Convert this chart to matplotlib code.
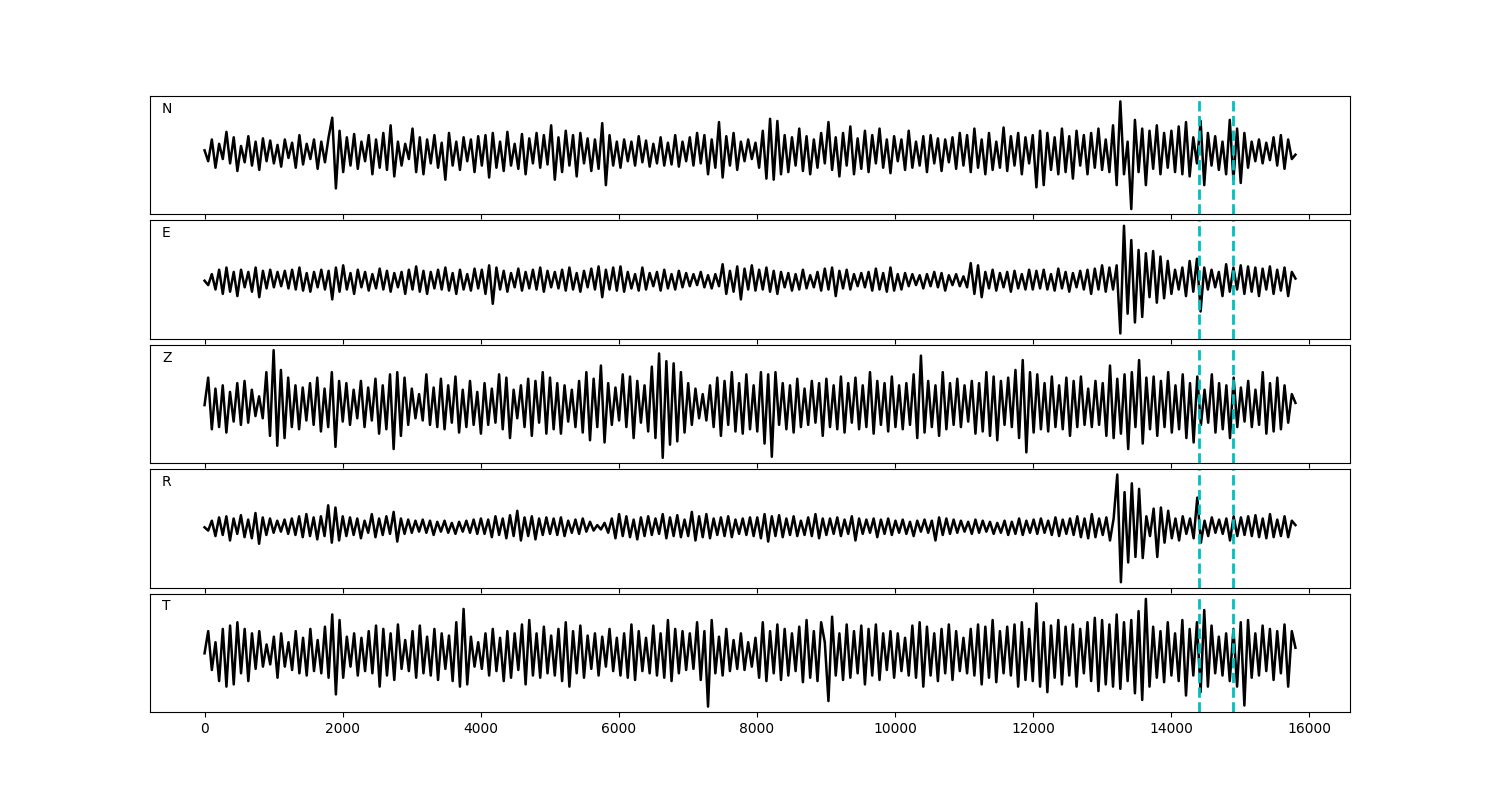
import numpy as np
import matplotlib
matplotlib.use('Agg')
import matplotlib.pyplot as plt

# trace extrema (amplitude, arbitrary units)
n_trace = [2, -8, 12, -14, 8, -6, 19, -10, 14, -17, 6, -9, 15, -12, 10, -16, 13, -8, 11,
           -10, 7, -13, 12, -5, 9, -14, 16, -11, 8, -6, 12, -15, 10, -9, 14, 32, -33, 20,
           -18, 14, -12, 17, -15, 10, -8, 16, -20, 12, -14, 18, -16, 25, -22, 10, -12, 8, -6,
           22, -18, 14, -20, 12, -10, 16, -14, 9, -25, 18, -12, 10, -16, 14, -8, 12, -18, 15,
           -12, 16, -23, 18, -14, 10, -17, 19, -12, 8, -15, 17, -20, 13, -10, 18, -14, 16, -11,
           25, -25, 14, -18, 20, -12, 16, -22, 18, -10, 13, -17, 12, -15, 27, -30, 16, -12, 10,
           -14, 12, -8, 10, -12, 15, -9, 11, -13, 8, -10, 14, -12, 9, -11, 16, -13, 10, -8,
           14, -12, 18, -10, 16, -20, 12, -14, 28, -23, 15, -12, 18, -16, 10, -8, 12, -6, 9,
           -14, 20, -24, 31, -25, 29, -20, 16, -18, 14, -12, 22, -17, 15, -20, 12, -14, 18, -10,
           28, -16, 14, -22, 18, -12, 24, -20, 13, -15, 20, -18, 16, -10, 22, -14, 12, -19, 15,
           -8, 12, -16, 20, -14, 10, -12, 15, -18, 16, -10, 13, -17, 12, -9, 14, -15, 18, -12,
           16, -18, 22, -14, 12, -20, 18, -16, 10, -14, 23, -17, 15, -12, 18, -20, 14, -10, 16,
           -32, 20, -30, 18, -16, 14, -20, 22, -18, 15, -24, 20, -12, 16, -20, 18, -14, 22, -16,
           12, -18, 25, -30, 47, -20, 10, -52, 30, -18, 22, -30, 20, -15, 25, -20, 18, -14, 20,
           -18, 24, -20, 28, -22, 14, -10, 29, -30, 18, -12, 15, -16, 10, -20, 30, -25, 22, -28,
           18, -14, 10, -8, 12, -10, 9, -7, 14, -12, 16, -15, 12, -6, -2]

e_trace = [0, -4, 6, -8, 10, -12, 12, -10, 8, -14, 10, -6, 8, -10, 12, -15, 9, -7, 10,
           -6, 8, -5, 9, -7, 10, -8, 12, -9, 7, -10, 8, -6, 10, -8, 9, -17, 12, -10,
           14, -8, 7, -12, 10, -6, 8, -9, 6, -7, 11, -8, 9, -10, 7, -6, 8, -12, 10,
           -8, 13, -10, 9, -12, 8, -7, 10, -8, 12, -9, 7, -12, 10, -8, 6, -9, 11, -7,
           10, -12, 14, -21, 12, -8, 9, -10, 7, -6, 11, -9, 8, -7, 10, -8, 12, -10, 9,
           -6, 8, -7, 10, -9, 12, -8, 7, -10, 9, -6, 11, -8, 13, -15, 10, -8, 12, -9,
           13, -10, 8, -7, 6, -9, 12, -8, 7, -5, 8, -9, 10, -7, 6, -8, 9, -6, 7,
           -5, 6, -4, 8, -6, 5, -7, 6, -5, 15, -12, 9, -10, 13, -17, 11, -8, 14, -9,
           10, -8, 12, -10, 9, -12, 8, -6, 7, -9, 6, -8, 10, -7, 5, -6, 8, -9, 11,
           -8, 12, -14, 9, -7, 10, -8, 6, -5, 7, -6, 8, -9, 11, -8, 7, -10, 12, -9,
           6, -8, 7, -5, 6, -4, 5, -7, 6, -5, 8, -6, 7, -9, 5, -4, 6, -5, 4,
           -6, 16, -12, 14, -15, 8, -7, 10, -9, 7, -6, 8, -10, 9, -7, 6, -8, 10, -8,
           9, -7, 10, -8, 6, -9, 11, -7, 8, -10, 7, -6, 9, -8, 10, -12, 11, -8, 14,
           -10, 12, -8, 14, -48, 50, -30, 37, -38, 28, -33, 25, -15, 27, -20, 22, -16, 18, -12,
           10, -8, 12, -14, 18, -10, 20, -28, 12, -8, 10, -6, 8, -14, 15, -10, 12, -8, 14,
           -12, 13, -10, 12, -14, 11, -8, 13, -12, 10, -9, 12, -14, 8, 2]

z_trace = [0, 25, -22, 15, -20, 18, -25, 12, -15, 20, -18, 22, -16, 14, -10, 8, -12, 30, -28,
           50, -37, 32, -30, 25, -20, 18, -22, 16, -14, 20, -18, 25, -24, 15, -20, 30, -38, 22,
           -15, 20, -18, 14, -12, 22, -20, 16, -14, 24, -26, 18, -22, 28, -40, 30, -28, 25, -18,
           15, -12, 10, -14, 28, -18, 16, -20, 24, -22, 18, -16, 26, -25, 14, -20, 22, -18, 12,
           -26, 20, -18, 15, -16, 28, -22, 25, -30, 14, -12, 18, -20, 24, -28, 22, -16, 30, -26,
           25, -22, 20, -26, 18, -15, 14, -20, 22, -25, 30, -32, 24, -20, 36, -34, 20, -18, 16,
           -14, 28, -20, 26, -30, 22, -16, 18, -24, 35, -30, 47, -48, 40, -36, 38, -33, 30, -25,
           20, -18, 15, -12, 10, -14, 18, -20, 25, -28, 22, -18, 30, -24, 20, -26, 28, -22, 18,
           -24, 30, -35, 28, -47, 30, -18, 20, -22, 18, -25, 24, -20, 15, -18, 22, -16, 20, -28,
           24, -20, 18, -22, 26, -25, 20, -16, 25, -22, 18, -20, 30, -26, 22, -18, 20, -24, 26,
           -20, 18, -22, 20, -18, 28, -30, 45, -25, 22, -20, 18, -28, 30, -22, 20, -18, 24, -20,
           18, -15, 22, -26, 20, -24, 30, -28, 26, -32, 22, -18, 25, -20, 32, -30, 41, -43, 30,
           -25, 28, -22, 20, -24, 26, -20, 18, -22, 25, -28, 22, -20, 26, -18, 15, -20, 22, -18,
           20, -28, 36, -30, 24, -26, 28, -40, 30, -20, 41, -35, 25, -22, 26, -28, 22, -20, 30, -25,
           18, -22, 28, -30, 20, -34, 26, -18, 14, -16, 28, -25, 20, -22, 18, -30, 25, -20, 16,
           -15, 22, -20, 14, -18, 30, -26, 20, -24, 25, -22, 18, -16, 10, 2]

r_trace = [0, -3, 6, -8, 9, -7, 10, -12, 8, -6, 11, -9, 7, -10, 13, -15, 9, -7, 8,
           -5, 6, -4, 7, -6, 8, -7, 10, -9, 12, -8, 9, -11, 10, -8, 20, -14, 18, -12,
           10, -8, 9, -7, 8, -10, 6, -5, 12, -9, 8, -7, 10, -6, 14, -13, 8, -6, 7,
           -5, 6, -4, 7, -5, 6, -7, 5, -4, 6, -5, 4, -6, 5, -4, 6, -5, 7, -6,
           8, -6, 7, -9, 10, -7, 8, -10, 11, -8, 15, -12, 9, -8, 10, -11, 8, -7, 9,
           -6, 8, -7, 9, -8, 6, -5, 7, -6, 8, -4, 5, -3, 2, -2, 4, -5, 8, -10,
           12, -8, 10, -9, 7, -11, 9, -8, 10, -7, 8, -6, 12, -10, 9, -8, 11, -9, 7,
           -8, 14, -12, 10, -9, 12, -10, 8, -7, 9, -8, 10, -9, 7, -6, 8, -7, 9, -8,
           9, -10, 12, -13, 10, -8, 11, -9, 8, -7, 10, -8, 6, -7, 9, -8, 12, -10, 8,
           -7, 8, -6, 9, -8, 7, -6, 10, -12, 8, -6, 7, -5, 8, -9, 7, -6, 8, -7,
           6, -5, 7, -6, 5, -8, 6, -4, 7, -5, 6, -12, 9, -7, 8, -6, 7, -5, 6,
           -4, 5, -6, 7, -5, 6, -4, 5, -6, 4, -5, 6, -7, 5, -6, 8, -7, 6, -5,
           7, -6, 8, -5, 6, -7, 9, -8, 7, -6, 8, -7, 10, -9, 8, -10, 12, -9, 8,
           -7, 9, -12, 8, 48, -50, 32, -32, 40, -27, 35, -28, 10, -8, 17, -27, 18, -14, 15, -10,
           8, -12, 10, -6, 8, -10, 27, -14, 6, -8, 9, -5, 7, -6, 8, -12, 10, -8, 9,
           -7, 10, -8, 11, -9, 8, -10, 12, -9, 7, -8, 10, -9, 6, 2]

t_trace = [0, 20, -15, 10, -25, 22, -30, 25, -28, 28, -18, 22, -25, 18, -14, 20, -12, 8, -10,
           15, -22, 18, -12, 10, -15, 20, -18, 14, -20, 22, -16, 12, -18, 24, -22, 35, -37, 30,
           -22, 15, -12, 18, -20, 14, -16, 20, -18, 25, -30, 22, -20, 18, -24, 26, -14, 12, -16,
           20, -22, 25, -18, 15, -20, 22, -24, 18, -14, 16, -25, 28, -30, 40, -28, 15, -12, 10,
           -14, 18, -20, 22, -16, 14, -25, 20, -22, 18, -15, 26, -28, 30, -20, 18, -22, 24, -18,
           16, -20, 22, -25, 28, -30, 20, -18, 25, -22, 16, -14, 18, -20, 15, -12, 22, -16, 14,
           -20, 18, -22, 26, -24, 20, -16, 14, -18, 25, -20, 18, -22, 30, -25, 22, -18, 20, -15,
           18, -14, 28, -24, 20, -48, 30, -18, 15, -20, 22, -16, 12, -14, 18, -15, 10, -12, 14,
           -22, 28, -25, 20, -18, 26, -24, 22, -20, 18, -16, 24, -26, 30, -22, 20, -25, 28, 10,
           -43, 33, -20, 18, -24, 26, -22, 20, -18, 25, -28, 22, -20, 26, -24, 18, -15, 20, -22,
           18, -16, 14, -20, 25, -22, 28, -30, 24, -20, 18, -25, 22, -18, 26, -24, 20, -16, 14,
           -18, 22, -20, 26, -28, 24, -22, 30, -26, 20, -18, 24, -20, 26, -30, 28, -24, 22, -25,
           45, -30, 28, -35, 25, -22, 30, -28, 24, -20, 26, -30, 22, -18, 28, -25, 32, -34, 30,
           -28, 26, -30, 35, -32, 28, -25, 30, -36, 38, -42, 49, -30, 24, -22, 20, -26, 28, -20,
           18, -25, 30, -38, 22, -20, 28, -35, 39, -30, 25, -18, 15, -20, 18, -25, 22, -30, 28,
           -47, 30, -22, 18, -20, 25, -16, 22, -24, 20, -18, 26, -30, 20, 5]

labels = ['N', 'E', 'Z', 'R', 'T']
traces = [n_trace, e_trace, z_trace, r_trace, t_trace]
t_end = 15800
picks = [14400, 14900]

fig, axes = plt.subplots(5, 1, sharex=True, figsize=(15, 8))
fig.subplots_adjust(left=0.1, right=0.9, top=0.88, bottom=0.11, hspace=0.05)

for ax, lab, tr in zip(axes, labels, traces):
    t = np.linspace(0, t_end, len(tr))
    ax.plot(t, tr, 'k', lw=1.8)
    for p in picks:
        ax.axvline(p, color='c', ls='--', lw=2)
    ax.text(0.01, 0.95, lab, transform=ax.transAxes, va='top')
    ax.set_yticks([])

fig.savefig('out.png', dpi=100)
